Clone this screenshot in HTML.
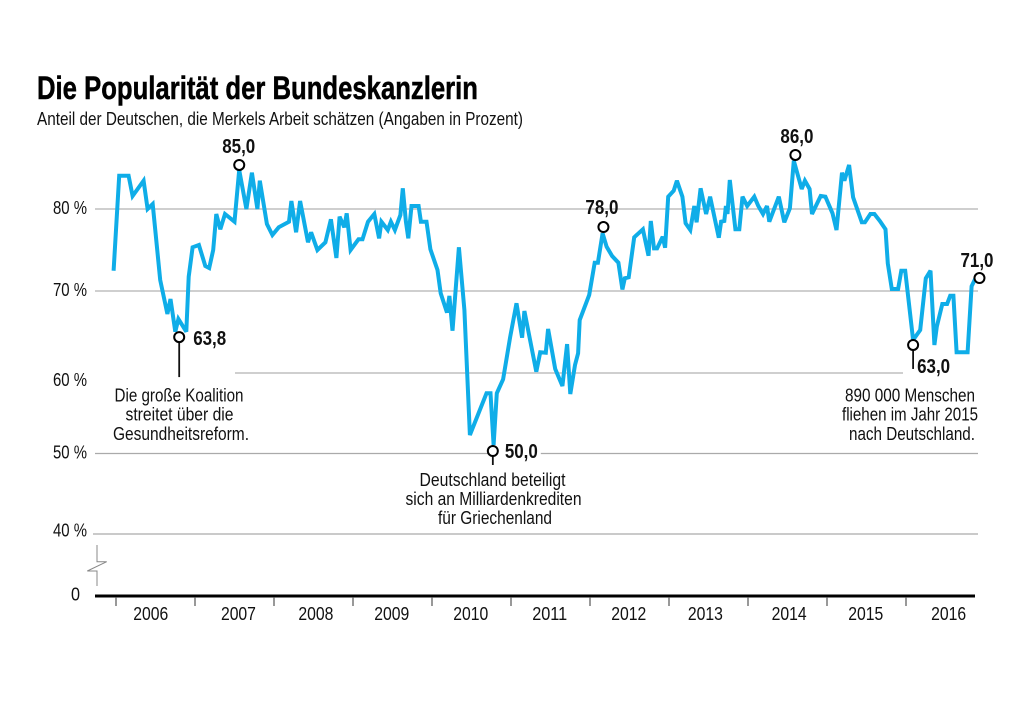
<!DOCTYPE html>
<html lang="de">
<head>
<meta charset="utf-8">
<title>Die Popularität der Bundeskanzlerin</title>
<style>
html,body{margin:0;padding:0;background:#fff;}
svg{display:block;}
text{font-family:"Liberation Sans Narrow","Liberation Sans",sans-serif;fill:#111;}
.note{font-size:18px;text-anchor:middle;}
</style>
</head>
<body>
<svg id="chart" width="1024" height="719" viewBox="0 0 1024 719" xmlns="http://www.w3.org/2000/svg">
  <rect x="0" y="0" width="1024" height="719" fill="#fff"/>
  <text x="37" y="99" font-size="32" font-weight="bold" textLength="441" lengthAdjust="spacingAndGlyphs" style="fill:#000;stroke:#000;stroke-width:0.5px">Die Popularität der Bundeskanzlerin</text>
  <text x="37" y="125" font-size="18.5" textLength="486" lengthAdjust="spacingAndGlyphs">Anteil der Deutschen, die Merkels Arbeit schätzen (Angaben in Prozent)</text>
  <g id="grid"></g>
  <g id="yaxis"></g>
  <path d="M97 545V561.7H106.7L87.3 571H97V586" fill="none" stroke="#888" stroke-width="1"/>
  <g id="xaxis"></g>
  <path id="series" fill="none" stroke="#0fade8" stroke-width="4" stroke-linejoin="miter" stroke-miterlimit="3"/>
  <g id="callouts"></g>
  <g>
    <text class="note" x="179" y="401.5" textLength="129" lengthAdjust="spacingAndGlyphs">Die große Koalition</text>
    <text class="note" x="179.5" y="420.5" textLength="108" lengthAdjust="spacingAndGlyphs">streitet über die</text>
    <text class="note" x="181" y="440" textLength="136" lengthAdjust="spacingAndGlyphs">Gesundheitsreform.</text>
  </g>
  <g>
    <text class="note" x="492.5" y="486" textLength="146" lengthAdjust="spacingAndGlyphs">Deutschland beteiligt</text>
    <text class="note" x="493.5" y="505" textLength="176" lengthAdjust="spacingAndGlyphs">sich an Milliardenkrediten</text>
    <text class="note" x="495" y="524" textLength="114" lengthAdjust="spacingAndGlyphs">für Griechenland</text>
  </g>
  <g>
    <text class="note" x="910" y="401.5" textLength="130" lengthAdjust="spacingAndGlyphs">890 000 Menschen</text>
    <text class="note" x="910" y="420.5" textLength="136" lengthAdjust="spacingAndGlyphs">fliehen im Jahr 2015</text>
    <text class="note" x="912" y="440" textLength="126" lengthAdjust="spacingAndGlyphs">nach Deutschland.</text>
  </g>
</svg>
<script>
var dates = [
2005.97,2006.04,2006.16,2006.21,2006.35,2006.40,2006.465,2006.56,2006.65,2006.69,2006.75,2006.79,2006.89,2006.92,2006.97,
2007.05,2007.13,2007.18,2007.23,2007.27,2007.32,2007.38,2007.50,2007.56,2007.65,2007.72,2007.79,2007.82,2007.91,2007.98,
2008.06,2008.19,2008.22,2008.28,2008.33,2008.43,2008.47,2008.55,2008.65,2008.72,2008.79,2008.83,2008.89,2008.92,2008.97,
2009.07,2009.12,2009.19,2009.27,2009.33,2009.36,2009.44,2009.48,2009.53,2009.60,2009.63,2009.67,2009.70,2009.74,2009.83,2009.86,2009.93,2009.98,
2010.07,2010.11,2010.19,2010.22,2010.26,2010.34,2010.41,2010.48,2010.69,2010.74,2010.78,2010.82,2010.90,2010.99,
2011.07,2011.14,2011.17,2011.32,2011.37,2011.44,2011.47,2011.56,2011.65,2011.71,2011.75,2011.81,2011.85,2011.87,2011.99,
2012.06,2012.10,2012.16,2012.21,2012.28,2012.36,2012.41,2012.44,2012.49,2012.56,2012.67,2012.74,2012.77,2012.81,2012.85,2012.92,2012.95,2012.99,
2013.06,2013.10,2013.17,2013.21,2013.27,2013.32,2013.35,2013.40,2013.47,2013.52,2013.63,2013.66,2013.70,2013.72,2013.74,2013.77,2013.84,2013.89,2013.93,2013.99,
2014.08,2014.13,2014.19,2014.24,2014.27,2014.39,2014.46,2014.53,2014.58,2014.68,2014.72,2014.78,2014.81,2014.92,2014.98,
2015.07,2015.12,2015.19,2015.22,2015.28,2015.33,2015.44,2015.48,2015.55,2015.60,2015.67,2015.74,2015.77,2015.82,2015.90,2015.94,2015.99,
2016.09,2016.18,2016.25,2016.31,2016.36,2016.39,2016.46,2016.52,2016.56,2016.60,2016.64,2016.78,2016.83,2016.88
];
var values = [
72.47,84.06,84.06,81.59,83.45,80,80.6,71.34,67.19,69.02,65.04,66.58,65.04,71.74,75.33,
75.61,73.05,72.8,75,79.39,77.52,79.39,78.45,84.76,80,84.43,80,83.45,78.17,76.83,
77.77,78.45,80.98,77.16,80.98,75.94,77.16,75,75.94,78.74,74.02,79.06,77.77,79.48,75,
76.3,76.3,78.45,79.39,76.43,78.45,77.44,78.45,77.44,79.27,82.53,78.45,76.43,80.37,80.37,78.45,78.45,75.08,
72.56,69.72,67.36,69.4,65.16,75.33,67.68,52.3,57.48,57.48,51.06,57.48,59.22,64.42,
68.5,64.3,67.56,60.16,62.52,62.47,65.36,60.5,58.39,63.53,57.39,60.97,62.4,66.46,69.51,
73.45,73.45,77.04,75.4,74.27,73.45,70.2,71.55,71.67,76.55,77.52,74.3,78.54,75.2,75.2,76.62,75.28,81.5,
82.23,83.45,81.5,78.26,77.44,80.37,78.38,82.53,79.39,81.5,76.5,78.45,78.54,80.37,79.39,83.54,77.52,77.52,81.5,80.37,
81.5,80.37,79.39,80.37,78.45,81.5,78.38,80.09,85.89,82.44,83.45,82.44,79.39,81.59,81.5,
79.48,77.44,84.43,83.45,85.37,81.43,78.38,78.38,79.39,79.39,78.54,77.52,73.37,70.24,70.24,72.47,72.47,
64.02,65.24,71.55,72.47,63.41,65.65,68.41,68.41,69.42,69.42,62.52,62.52,70.57,71.55
];
var yTicks = [80, 70, 60, 50, 40];
var yTickLabels = ["80 %", "70 %", "60 %", "50 %", "40 %"];
var years = [2006, 2007, 2008, 2009, 2010, 2011, 2012, 2013, 2014, 2015, 2016];
var yearLabelDates = [2006.44, 2007.55, 2008.53, 2009.49, 2010.49, 2011.49, 2012.49, 2013.46, 2014.52, 2015.49, 2016.54];
var calloutDates = [2006.80, 2007.56, 2010.77, 2012.17, 2014.60, 2016.09, 2016.93];
var calloutValues = [64.38, 85.37, 50.31, 77.8, 86.59, 63.42, 71.58];
var calloutLabels = ["63,8", "85,0", "50,0", "78,0", "86,0", "63,0", "71,0"];

var NS = "http://www.w3.org/2000/svg";
function xScale(d) { return 116 + (d - 2006) * 79; }
function yScale(v) { return v >= 60 ? 209 + (80 - v) * 8.2 : 373 + (60 - v) * 8.05; }
function make(tag, parent) {
  var el = document.createElementNS(NS, tag);
  parent.appendChild(el);
  return el;
}
function put(el, a, b, c, d) {
  el.setAttribute(a, b);
  if (c) el.setAttribute(c, d);
}
function line(parent, x1, y1, x2, y2, color, width) {
  var el = make("line", parent);
  put(el, "x1", x1, "y1", y1);
  put(el, "x2", x2, "y2", y2);
  put(el, "stroke", color, "stroke-width", width);
  return el;
}
function label(parent, str, x, y, size, width, anchor, bold) {
  var el = make("text", parent);
  put(el, "x", x, "y", y);
  put(el, "font-size", size, "text-anchor", anchor);
  put(el, "textLength", width, "lengthAdjust", "spacingAndGlyphs");
  if (bold) el.setAttribute("font-weight", "bold");
  el.textContent = str;
  return el;
}

var grid = document.getElementById("grid");
var yaxis = document.getElementById("yaxis");
var xaxis = document.getElementById("xaxis");
var callouts = document.getElementById("callouts");

yTicks.forEach(function (t, i) {
  var y = yScale(t);
  var x1 = t === 60 ? 235 : (t === 40 ? 93 : 95);
  var x2 = t === 60 ? 903 : 978;
  var strong = t >= 60;
  var g = line(grid, x1, y, x2, y, strong ? "#cfcfcf" : "#aaaaaa", strong ? 2 : 1.2);
  
  
  var nudge = t === 60 ? 13 : (t === 40 ? 2.5 : 5);
  var l = label(yaxis, yTickLabels[i], 53, y + nudge, 18, 34, "start", false);
  
  
});

var zeroLabel = label(yaxis, "0", 71, 600.5, 18, 9, "start", false);



var baseline = line(xaxis, 95, 596, 975, 596, "#000", 3);



years.forEach(function (yr, i) {
  var tick = line(xaxis, xScale(yr), 597, xScale(yr), 606, "#555", 1.2);
  
  
  var yl = label(xaxis, String(yr), xScale(yearLabelDates[i]), 620, 18, 35, "middle", false);
  
  
});

var d = "";
dates.forEach(function (dt, i) {
  d += (i ? "L" : "M") + xScale(dt).toFixed(1) + " " + yScale(values[i]).toFixed(1);
});
document.getElementById("series").setAttribute("d", d);

function drawCallout(i, dx, dy, anchor, stem, mask) {
  var cx = xScale(calloutDates[i]);
  var cy = yScale(calloutValues[i]);
  if (mask) {
    var r = make("rect", callouts);
    put(r, "x", cx + 4, "y", cy - 10);
    put(r, "width", 44, "height", 20);
    r.setAttribute("fill", "#fff");
    
    
  }
  if (stem) {
    var s = line(callouts, cx, cy + 5, cx, cy + stem, "#111", 1.8);
    
    
  }
  var c = make("circle", callouts);
  put(c, "cx", cx, "cy", cy);
  put(c, "r", 5, "fill", "#fff");
  put(c, "stroke", "#000", "stroke-width", 2);
  
  
  var t = label(callouts, calloutLabels[i], cx + dx, cy + dy, 20, 33, anchor, true);
  
  
}
drawCallout(0, 14, 8, "start", 40, false);
drawCallout(1, -17, -12, "start", 0, false);
drawCallout(2, 12, 7, "start", 14, true);
drawCallout(3, -18, -13, "start", 0, false);
drawCallout(4, -15, -12, "start", 0, false);
drawCallout(5, 4, 28, "start", 24, false);
drawCallout(6, -19, -11, "start", 0, false);
</script>
</body>
</html>
